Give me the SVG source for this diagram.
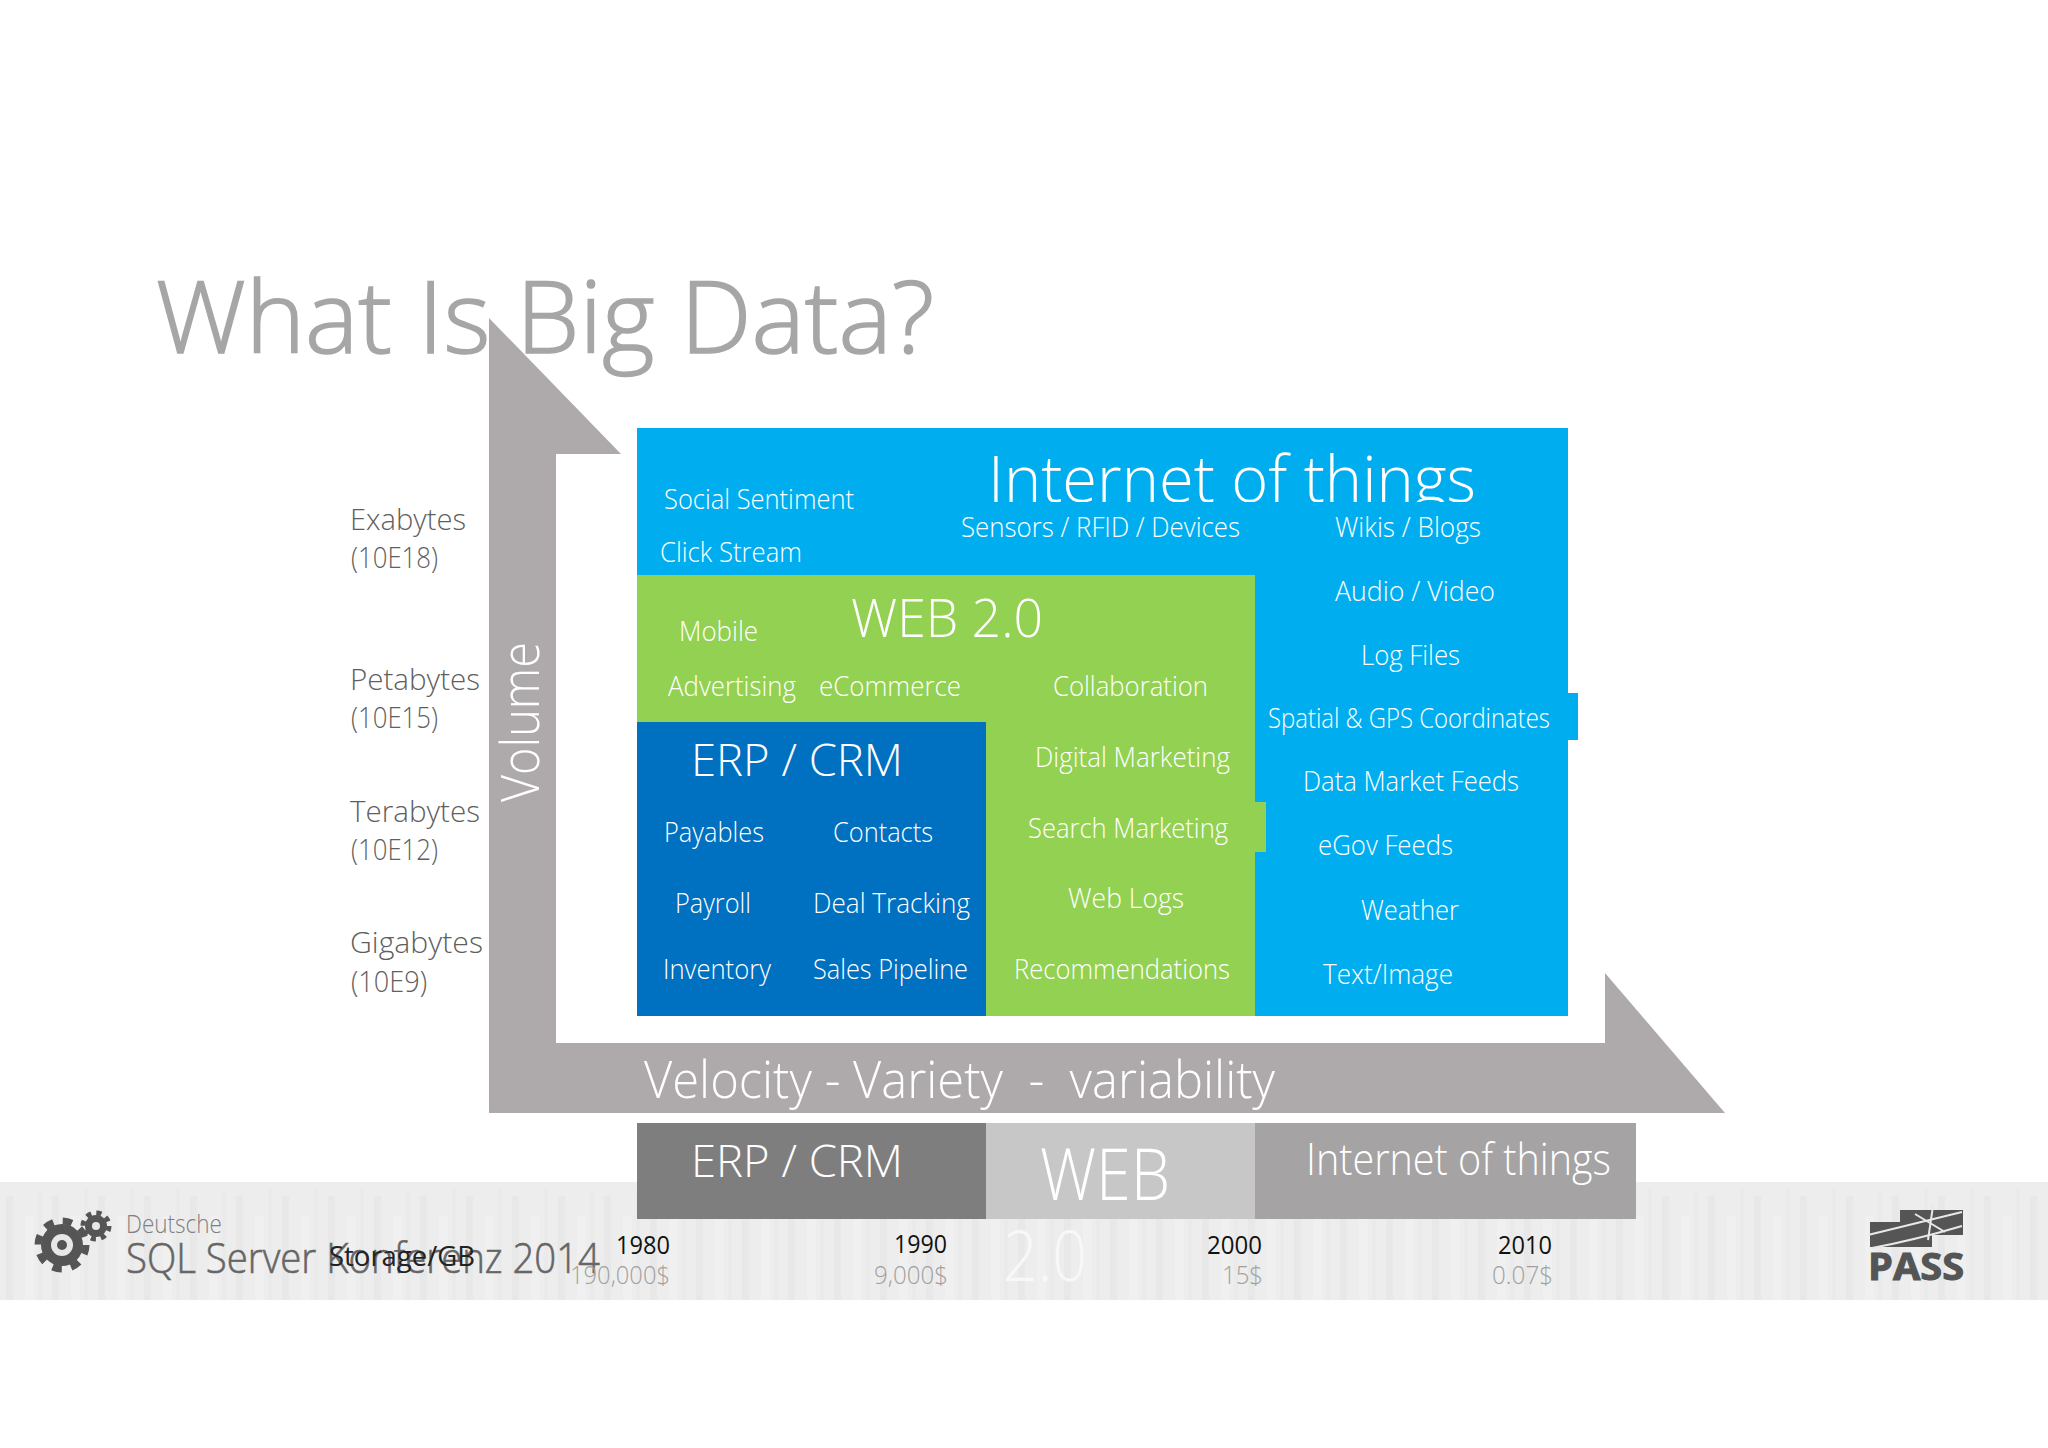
<svg xmlns="http://www.w3.org/2000/svg" width="2048" height="1448" viewBox="0 0 2048 1448">
<style>
text{font-family:"Open Sans","Noto Sans","Liberation Sans",sans-serif;font-weight:300;white-space:pre}
.w{fill:#fff}
.s{font-size:28px}
.l{font-size:30px;fill:#5f5f5f}
.y{font-size:26px;fill:#111;font-weight:400}
.c{font-size:26px;fill:#a0a0a0}
</style>
<defs>
<pattern id="people" width="46" height="118" patternUnits="userSpaceOnUse" x="0" y="1182">
<rect width="46" height="118" fill="#ededed"/>
<rect x="6" y="14" width="7" height="104" fill="#e8e8e8"/>
<rect x="25" y="34" width="9" height="84" fill="#f0f0f0"/>
<rect x="38" y="8" width="4" height="110" fill="#eaeaea"/>
</pattern>
<clipPath id="iotClip"><rect x="900" y="428" width="660" height="74"/></clipPath>
</defs>
<rect width="2048" height="1448" fill="#fff"/>
<rect id="band" x="0" y="1182" width="2048" height="118" fill="url(#people)"/>
<g id="title"><text x="156" y="353" font-size="100" fill="#a6a6a6" stroke="#a6a6a6" stroke-width="1.6" textLength="778" lengthAdjust="spacingAndGlyphs">What Is Big Data?</text></g>
<g id="connectors">
<path id="axis-arrow" d="M489 318L621 454H556V1043H1605V973L1725 1113H489Z" fill="#aeaaab"/>
<text class="w" transform="translate(539 802) rotate(-90)" font-size="54" textLength="160" lengthAdjust="spacingAndGlyphs">Volume</text>
<text class="w" x="644" y="1098" font-size="52" textLength="631" lengthAdjust="spacingAndGlyphs">Velocity - Variety  -  variability</text>
</g>
<g id="scale-labels">
<text class="l" x="350" y="530" textLength="116" lengthAdjust="spacingAndGlyphs">Exabytes</text>
<text class="l" x="351" y="568" textLength="87" lengthAdjust="spacingAndGlyphs">(10E18)</text>
<text class="l" x="350" y="690" textLength="130" lengthAdjust="spacingAndGlyphs">Petabytes</text>
<text class="l" x="351" y="728" textLength="87" lengthAdjust="spacingAndGlyphs">(10E15)</text>
<text class="l" x="350" y="822" textLength="130" lengthAdjust="spacingAndGlyphs">Terabytes</text>
<text class="l" x="351" y="860" textLength="87" lengthAdjust="spacingAndGlyphs">(10E12)</text>
<text class="l" x="350" y="953" textLength="133" lengthAdjust="spacingAndGlyphs">Gigabytes</text>
<text class="l" x="351" y="992" textLength="76" lengthAdjust="spacingAndGlyphs">(10E9)</text>
</g>
<g id="internet-of-things">
<path d="M637 428H1568V693H1578V740H1568V1016H1255V575H637Z" fill="#00aeef"/>
<text class="w" x="988" y="502" font-size="64" clip-path="url(#iotClip)" textLength="488" lengthAdjust="spacingAndGlyphs">Internet of things</text>
<text class="w s" x="664" y="509" textLength="190" lengthAdjust="spacingAndGlyphs">Social Sentiment</text>
<text class="w s" x="660" y="562" textLength="142" lengthAdjust="spacingAndGlyphs">Click Stream</text>
<text class="w s" x="961" y="537" textLength="279" lengthAdjust="spacingAndGlyphs">Sensors / RFID / Devices</text>
<text class="w s" x="1335" y="537" textLength="146" lengthAdjust="spacingAndGlyphs">Wikis / Blogs</text>
<text class="w s" x="1335" y="601" textLength="160" lengthAdjust="spacingAndGlyphs">Audio / Video</text>
<text class="w s" x="1361" y="665" textLength="99" lengthAdjust="spacingAndGlyphs">Log Files</text>
<text class="w s" x="1268" y="728" textLength="282" lengthAdjust="spacingAndGlyphs">Spatial &amp; GPS Coordinates</text>
<text class="w s" x="1303" y="791" textLength="216" lengthAdjust="spacingAndGlyphs">Data Market Feeds</text>
<text class="w s" x="1318" y="855" textLength="135" lengthAdjust="spacingAndGlyphs">eGov Feeds</text>
<text class="w s" x="1361" y="920" textLength="98" lengthAdjust="spacingAndGlyphs">Weather</text>
<text class="w s" x="1323" y="984" textLength="130" lengthAdjust="spacingAndGlyphs">Text/Image</text>
</g>
<g id="web-2-0">
<path d="M637 575H1255V802H1266V852H1255V1016H986V722H637Z" fill="#93d152"/>
<text class="w" x="851" y="637" font-size="54" textLength="192" lengthAdjust="spacingAndGlyphs">WEB 2.0</text>
<text class="w s" x="679" y="641" textLength="79" lengthAdjust="spacingAndGlyphs">Mobile</text>
<text class="w s" x="668" y="696" textLength="128" lengthAdjust="spacingAndGlyphs">Advertising</text>
<text class="w s" x="819" y="696" textLength="142" lengthAdjust="spacingAndGlyphs">eCommerce</text>
<text class="w s" x="1053" y="696" textLength="155" lengthAdjust="spacingAndGlyphs">Collaboration</text>
<text class="w s" x="1035" y="767" textLength="195" lengthAdjust="spacingAndGlyphs">Digital Marketing</text>
<text class="w s" x="1028" y="838" textLength="200" lengthAdjust="spacingAndGlyphs">Search Marketing</text>
<text class="w s" x="1068" y="908" textLength="116" lengthAdjust="spacingAndGlyphs">Web Logs</text>
<text class="w s" x="1014" y="979" textLength="216" lengthAdjust="spacingAndGlyphs">Recommendations</text>
</g>
<g id="erp-crm">
<rect x="637" y="722" width="349" height="294" fill="#0070c0"/>
<text class="w" x="691" y="776" font-size="45" textLength="212" lengthAdjust="spacingAndGlyphs">ERP / CRM</text>
<text class="w s" x="664" y="842" textLength="100" lengthAdjust="spacingAndGlyphs">Payables</text>
<text class="w s" x="833" y="842" textLength="100" lengthAdjust="spacingAndGlyphs">Contacts</text>
<text class="w s" x="675" y="913" textLength="76" lengthAdjust="spacingAndGlyphs">Payroll</text>
<text class="w s" x="813" y="913" textLength="157" lengthAdjust="spacingAndGlyphs">Deal Tracking</text>
<text class="w s" x="663" y="979" textLength="108" lengthAdjust="spacingAndGlyphs">Inventory</text>
<text class="w s" x="813" y="979" textLength="155" lengthAdjust="spacingAndGlyphs">Sales Pipeline</text>
</g>
<g id="timeline-erp">
<rect x="637" y="1123" width="349" height="96" fill="#7f7e7f"/>
<text class="w" x="691" y="1177" font-size="45" textLength="212" lengthAdjust="spacingAndGlyphs">ERP / CRM</text>
</g>
<g id="timeline-web">
<rect x="986" y="1123" width="269" height="96" fill="#c8c7c7"/>
<text class="w" x="1040" y="1200" font-size="72" textLength="130" lengthAdjust="spacingAndGlyphs">WEB</text>
<text x="1003" y="1281" font-size="70" fill="#f8f8f8" textLength="84" lengthAdjust="spacingAndGlyphs">2.0</text>
</g>
<g id="timeline-iot">
<rect x="1255" y="1123" width="381" height="96" fill="#a5a3a4"/>
<text class="w" x="1306" y="1175" font-size="45" textLength="305" lengthAdjust="spacingAndGlyphs">Internet of things</text>
</g>
<g id="conference-logo">
<circle cx="62" cy="1245" r="21" fill="#555"/>
<circle cx="62" cy="1245" r="24" fill="none" stroke="#555" stroke-width="7" stroke-dasharray="9.4 9.45"/>
<circle cx="62" cy="1245" r="11" fill="#e8e8e8"/>
<circle cx="62" cy="1245" r="5" fill="#555"/>
<circle cx="96" cy="1226" r="11" fill="#555"/>
<circle cx="96" cy="1226" r="13" fill="none" stroke="#555" stroke-width="5" stroke-dasharray="5.1 5.1"/>
<circle cx="96" cy="1226" r="4" fill="#e8e8e8"/>
<text x="126" y="1233" font-size="26" fill="#808080" textLength="96" lengthAdjust="spacingAndGlyphs">Deutsche</text>
<text x="126" y="1273" font-size="43" fill="#666" stroke="#666" stroke-width=".6" textLength="474" lengthAdjust="spacingAndGlyphs">SQL Server Konferenz 2014</text>
</g>
<g id="storage-costs">
<text x="329" y="1266" font-size="28" fill="#222" style="font-weight:400" textLength="146" lengthAdjust="spacingAndGlyphs">Storage/GB</text>
<text class="y" x="616" y="1254" textLength="54" lengthAdjust="spacingAndGlyphs">1980</text>
<text class="c" x="570" y="1284" textLength="100" lengthAdjust="spacingAndGlyphs">190,000$</text>
<text class="y" x="894" y="1253" textLength="53" lengthAdjust="spacingAndGlyphs">1990</text>
<text class="c" x="874" y="1284" textLength="74" lengthAdjust="spacingAndGlyphs">9,000$</text>
<text class="y" x="1207" y="1254" textLength="55" lengthAdjust="spacingAndGlyphs">2000</text>
<text class="c" x="1222" y="1284" textLength="41" lengthAdjust="spacingAndGlyphs">15$</text>
<text class="y" x="1498" y="1254" textLength="54" lengthAdjust="spacingAndGlyphs">2010</text>
<text class="c" x="1492" y="1284" textLength="61" lengthAdjust="spacingAndGlyphs">0.07$</text>
</g>
<g id="pass-logo">
<path d="M1870 1222H1900V1210H1963V1235H1932V1247H1870Z" fill="#555"/>
<path d="M1868 1235Q1905 1226 1962 1212M1872 1248Q1915 1240 1962 1226M1933 1206L1928 1240M1915 1214L1945 1232" fill="none" stroke="#e8e8e8" stroke-width="2"/>
<text x="1868" y="1280" font-size="37" fill="#555" stroke="#555" stroke-width="1" style="font-weight:700" textLength="96" lengthAdjust="spacingAndGlyphs">PASS</text>
</g>
</svg>
